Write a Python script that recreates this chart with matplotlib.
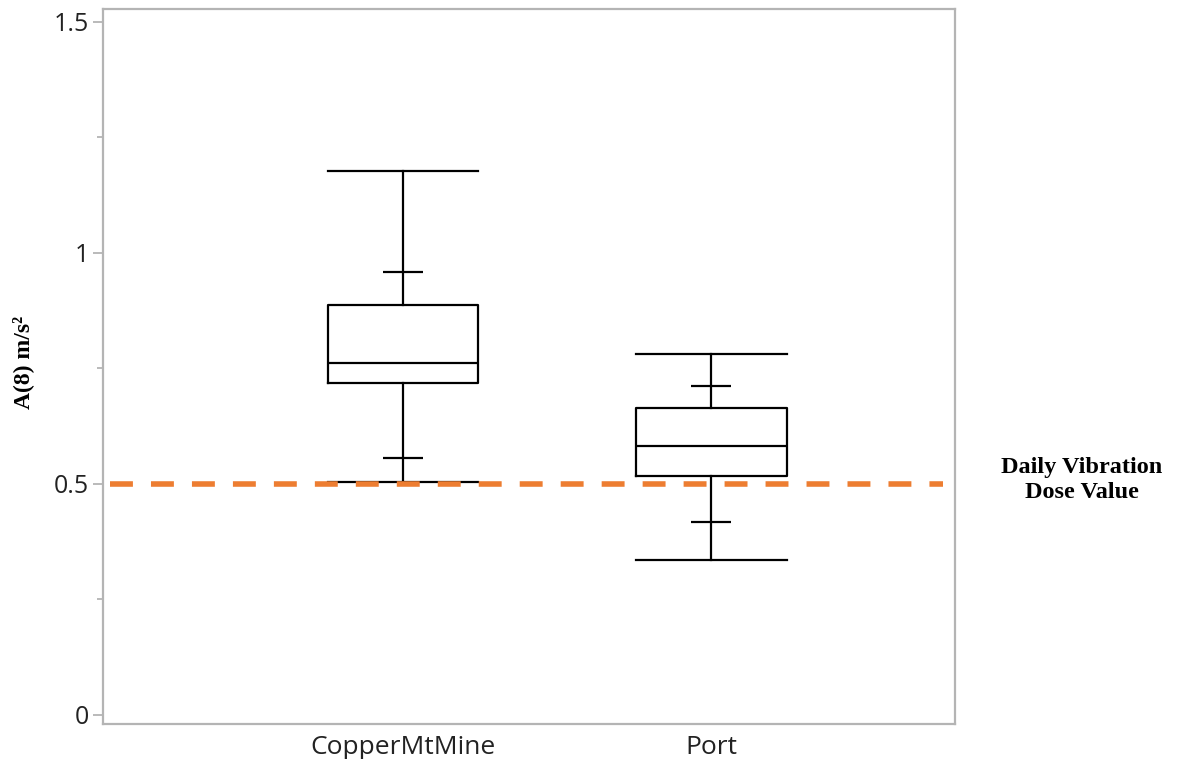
import matplotlib
matplotlib.use("Agg")
import matplotlib.pyplot as plt

# data
sites = ["CopperMtMine", "Port"]
whisker_low = [0.504, 0.335]
q1 = [0.719, 0.517]
median = [0.762, 0.582]
q3 = [0.887, 0.665]
whisker_high = [1.177, 0.781]
p10 = [0.556, 0.418]
p90 = [0.959, 0.712]
dvdv = 0.5

yticks = [0, 0.5, 1, 1.5]
ytick_labels = ["0", "0.5", "1", "1.5"]
yminor = [0.25, 0.75, 1.25]

plt.rcParams['lines.scale_dashes'] = False

fig = plt.figure(figsize=(11.84, 7.59), dpi=100)
ax = fig.add_axes([103/1184, 35/759, 852/1184, 715/759])

positions = [1, 2]
stats = []
for i, name in enumerate(sites):
    stats.append(dict(label=name, whislo=whisker_low[i], q1=q1[i], med=median[i],
                      q3=q3[i], whishi=whisker_high[i], fliers=[]))

line = dict(color='black', linewidth=1.6)
ax.bxp(stats, positions=positions, widths=0.49, capwidths=0.49,
       showfliers=False, boxprops=line, whiskerprops=line, capprops=line,
       medianprops=line)

# short marks on the whiskers
ax.hlines(p10, [p - 0.065 for p in positions], [p + 0.065 for p in positions],
          color='black', linewidth=1.6)
ax.hlines(p90, [p - 0.065 for p in positions], [p + 0.065 for p in positions],
          color='black', linewidth=1.6)

# daily vibration dose value
ax.axhline(dvdv, xmin=0.008, xmax=0.986, color='#ED7D31', linewidth=4.0,
           dashes=(16.5, 13), zorder=3)

ax.set_xlim(0.026, 2.792)
ax.set_ylim(-0.0195, 1.528)
ax.set_yticks(yticks)
ax.set_yticklabels(ytick_labels)
ax.set_yticks(yminor, minor=True)
ax.set_xticks(positions)
ax.set_xticklabels(sites)

for s in ax.spines.values():
    s.set_color('#b4b4b4')
    s.set_linewidth(1.6)

ax.tick_params(axis='y', which='major', length=7, width=1.3, color='#b4b4b4',
               labelsize=18, labelcolor='#222222', pad=3)
ax.tick_params(axis='y', which='minor', length=4, width=1.3, color='#b4b4b4')
ax.tick_params(axis='x', length=0, labelsize=19, labelcolor='#222222', pad=8)
for lab in ax.get_xticklabels() + ax.get_yticklabels():
    lab.set_family('Open Sans')

ax.set_ylabel("A(8) m/s²", family='Liberation Serif', fontweight='bold',
              fontsize=17)
ax.yaxis.set_label_coords(-69/852, 0.506)

fig.text(1082/1184, 1 - 480/759, "Daily Vibration\nDose Value", ha='center',
         va='center', family='Liberation Serif', fontweight='bold',
         fontsize=17.5, linespacing=1.25)

fig.savefig("out.png", dpi=100)
